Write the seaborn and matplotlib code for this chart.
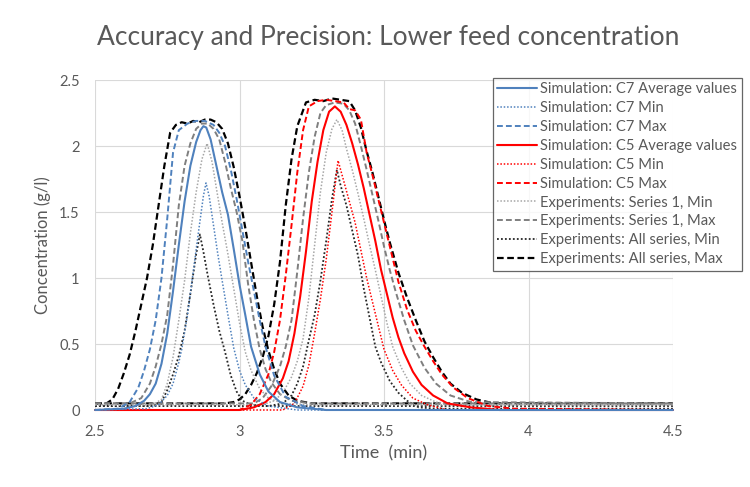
import numpy as np
import pandas as pd
import matplotlib
matplotlib.use("Agg")
import matplotlib.pyplot as plt
import seaborn as sns
from matplotlib.lines import Line2D

# ---------------- data ----------------
legend_labels = [
    "Simulation: C7 Average values", "Simulation: C7 Min", "Simulation: C7 Max",
    "Simulation: C5 Average values", "Simulation: C5 Min", "Simulation: C5 Max",
    "Experiments: Series 1, Min", "Experiments: Series 1, Max",
    "Experiments: All series, Min", "Experiments: All series, Max",
]
x_ticks = [2.5, 3, 3.5, 4, 4.5]
y_ticks = [0, 0.5, 1, 1.5, 2, 2.5]

# Simulation C7
sim_c7_avg_t = [2.50, 2.60, 2.64, 2.67, 2.69, 2.71, 2.73, 2.75, 2.77, 2.79, 2.81, 2.83, 2.85, 2.865, 2.875, 2.885, 2.90, 2.92, 2.94, 2.96, 2.98, 3.00, 3.02, 3.04, 3.07, 3.10, 3.14, 3.20, 3.30, 4.50]
sim_c7_avg_c = [0.00, 0.01, 0.03, 0.07, 0.12, 0.20, 0.35, 0.58, 0.90, 1.25, 1.58, 1.85, 2.03, 2.12, 2.15, 2.14, 2.05, 1.85, 1.65, 1.48, 1.22, 0.95, 0.72, 0.48, 0.27, 0.14, 0.06, 0.02, 0.00, 0.00]
sim_c7_min_t = [2.50, 2.68, 2.72, 2.75, 2.77, 2.79, 2.80, 2.82, 2.84, 2.86, 2.875, 2.884, 2.895, 2.91, 2.925, 2.94, 2.96, 2.98, 3.00, 3.02, 3.05, 3.10, 3.20, 4.50]
sim_c7_min_c = [0.00, 0.01, 0.04, 0.11, 0.20, 0.36, 0.46, 0.72, 1.05, 1.38, 1.62, 1.72, 1.62, 1.40, 1.18, 0.98, 0.72, 0.47, 0.30, 0.19, 0.09, 0.03, 0.00, 0.00]
sim_c7_max_t = [2.50, 2.58, 2.62, 2.65, 2.67, 2.69, 2.71, 2.73, 2.75, 2.77, 2.79, 2.82, 2.85, 2.88, 2.91, 2.93, 2.95, 2.97, 2.99, 3.01, 3.03, 3.05, 3.07, 3.09, 3.12, 3.16, 3.22, 3.30, 4.50]
sim_c7_max_c = [0.00, 0.01, 0.06, 0.17, 0.30, 0.46, 0.68, 1.00, 1.45, 1.95, 2.12, 2.17, 2.19, 2.19, 2.16, 2.10, 2.00, 1.82, 1.60, 1.36, 1.12, 0.90, 0.68, 0.48, 0.26, 0.10, 0.03, 0.00, 0.00]

# Simulation C5
sim_c5_avg_t = [2.50, 3.00, 3.05, 3.09, 3.12, 3.15, 3.17, 3.19, 3.21, 3.23, 3.25, 3.27, 3.29, 3.31, 3.33, 3.35, 3.37, 3.39, 3.41, 3.43, 3.45, 3.47, 3.49, 3.51, 3.53, 3.55, 3.57, 3.60, 3.63, 3.67, 3.72, 3.80, 3.90, 4.50]
sim_c5_avg_c = [0.00, 0.00, 0.02, 0.06, 0.12, 0.24, 0.37, 0.58, 0.86, 1.20, 1.58, 1.88, 2.12, 2.26, 2.30, 2.26, 2.16, 2.02, 1.86, 1.68, 1.48, 1.28, 1.06, 0.88, 0.70, 0.55, 0.43, 0.29, 0.19, 0.11, 0.05, 0.02, 0.00, 0.00]
sim_c5_min_t = [2.50, 3.15, 3.19, 3.22, 3.24, 3.26, 3.28, 3.30, 3.32, 3.341, 3.36, 3.38, 3.40, 3.42, 3.44, 3.46, 3.48, 3.50, 3.53, 3.56, 3.60, 3.65, 3.72, 4.50]
sim_c5_min_c = [0.00, 0.00, 0.05, 0.18, 0.34, 0.58, 0.84, 1.14, 1.50, 1.89, 1.74, 1.58, 1.42, 1.21, 1.00, 0.82, 0.64, 0.46, 0.30, 0.19, 0.09, 0.04, 0.00, 0.00]
sim_c5_max_t = [2.50, 3.00, 3.04, 3.07, 3.10, 3.12, 3.14, 3.16, 3.18, 3.20, 3.22, 3.24, 3.27, 3.30, 3.33, 3.36, 3.38, 3.40, 3.42, 3.44, 3.46, 3.48, 3.50, 3.52, 3.55, 3.58, 3.61, 3.64, 3.67, 3.70, 3.74, 3.79, 3.86, 3.95, 4.50]
sim_c5_max_c = [0.00, 0.00, 0.04, 0.12, 0.27, 0.44, 0.68, 1.02, 1.40, 1.80, 2.12, 2.30, 2.34, 2.35, 2.34, 2.33, 2.28, 2.27, 2.20, 1.95, 1.78, 1.60, 1.42, 1.24, 0.97, 0.76, 0.60, 0.48, 0.37, 0.27, 0.17, 0.09, 0.03, 0.01, 0.00]

# Experiments: Series 1
exp_s1_min_c7_t = [2.50, 2.70, 2.73, 2.75, 2.77, 2.79, 2.81, 2.83, 2.85, 2.87, 2.888, 2.905, 2.92, 2.94, 2.96, 2.98, 3.00, 3.02, 3.04, 3.07, 3.10, 3.15, 3.25, 4.50]
exp_s1_min_c7_c = [0.04, 0.04, 0.08, 0.20, 0.40, 0.68, 0.98, 1.34, 1.65, 1.90, 2.02, 1.88, 1.68, 1.42, 1.18, 0.92, 0.66, 0.44, 0.30, 0.16, 0.09, 0.05, 0.04, 0.04]
exp_s1_min_c5_t = [2.50, 3.08, 3.12, 3.15, 3.18, 3.20, 3.22, 3.24, 3.26, 3.28, 3.30, 3.32, 3.337, 3.355, 3.37, 3.39, 3.41, 3.43, 3.45, 3.47, 3.49, 3.51, 3.53, 3.56, 3.59, 3.63, 3.68, 3.75, 4.50]
exp_s1_min_c5_c = [0.04, 0.04, 0.07, 0.13, 0.25, 0.37, 0.54, 0.85, 1.25, 1.65, 1.95, 2.13, 2.20, 2.12, 1.98, 1.82, 1.64, 1.45, 1.25, 1.06, 0.86, 0.66, 0.48, 0.32, 0.20, 0.11, 0.06, 0.04, 0.04]
exp_s1_max_c7_t = [2.50, 2.62, 2.66, 2.69, 2.71, 2.73, 2.75, 2.77, 2.79, 2.81, 2.83, 2.85, 2.87, 2.89, 2.91, 2.93, 2.95, 2.97, 2.99, 3.01, 3.03, 3.05, 3.07, 3.09, 3.11, 3.14, 3.18, 3.25, 4.50]
exp_s1_max_c7_c = [0.05, 0.05, 0.09, 0.20, 0.33, 0.50, 0.72, 1.10, 1.55, 1.85, 2.02, 2.13, 2.17, 2.17, 2.13, 2.05, 1.88, 1.68, 1.50, 1.28, 0.95, 0.68, 0.46, 0.31, 0.21, 0.12, 0.07, 0.05, 0.05]
exp_s1_max_c5_t = [2.50, 3.05, 3.08, 3.11, 3.14, 3.16, 3.18, 3.20, 3.22, 3.24, 3.26, 3.28, 3.30, 3.33, 3.36, 3.38, 3.40, 3.42, 3.44, 3.46, 3.48, 3.50, 3.52, 3.54, 3.57, 3.60, 3.64, 3.68, 3.73, 3.80, 4.50]
exp_s1_max_c5_c = [0.05, 0.05, 0.09, 0.18, 0.33, 0.48, 0.68, 1.05, 1.45, 1.80, 2.07, 2.25, 2.31, 2.33, 2.32, 2.27, 2.17, 2.00, 1.82, 1.63, 1.44, 1.24, 1.06, 0.90, 0.68, 0.49, 0.32, 0.20, 0.11, 0.06, 0.05]

# Experiments: All series
exp_all_min_c7_t = [2.50, 2.70, 2.73, 2.75, 2.77, 2.79, 2.81, 2.83, 2.85, 2.863, 2.875, 2.89, 2.91, 2.93, 2.95, 2.97, 2.99, 3.01, 3.04, 3.10, 4.50]
exp_all_min_c7_c = [0.03, 0.03, 0.06, 0.15, 0.27, 0.41, 0.60, 0.88, 1.18, 1.33, 1.20, 1.02, 0.80, 0.60, 0.44, 0.26, 0.14, 0.07, 0.04, 0.03, 0.03]
exp_all_min_c5_t = [2.50, 3.10, 3.15, 3.18, 3.20, 3.22, 3.24, 3.26, 3.28, 3.30, 3.32, 3.337, 3.35, 3.37, 3.39, 3.41, 3.43, 3.45, 3.47, 3.49, 3.52, 3.55, 3.58, 3.62, 3.68, 4.50]
exp_all_min_c5_c = [0.03, 0.03, 0.05, 0.11, 0.20, 0.33, 0.53, 0.72, 0.98, 1.28, 1.60, 1.82, 1.70, 1.55, 1.36, 1.17, 0.92, 0.70, 0.48, 0.36, 0.22, 0.13, 0.07, 0.02, 0.01, 0.01]
exp_all_max_c7_t = [2.50, 2.54, 2.56, 2.58, 2.60, 2.62, 2.64, 2.66, 2.68, 2.70, 2.72, 2.74, 2.76, 2.78, 2.80, 2.82, 2.84, 2.86, 2.88, 2.90, 2.92, 2.94, 2.96, 2.98, 3.00, 3.02, 3.04, 3.06, 3.08, 3.10, 3.12, 3.14, 3.17, 3.20, 3.25, 4.50]
exp_all_max_c7_c = [0.05, 0.05, 0.08, 0.16, 0.28, 0.42, 0.60, 0.80, 1.00, 1.25, 1.55, 1.85, 2.10, 2.16, 2.18, 2.17, 2.19, 2.18, 2.20, 2.20, 2.18, 2.13, 2.02, 1.84, 1.62, 1.38, 1.12, 0.86, 0.63, 0.45, 0.31, 0.20, 0.11, 0.07, 0.05, 0.05]
exp_all_max_c5_t = [2.50, 2.95, 2.98, 3.00, 3.02, 3.04, 3.06, 3.08, 3.10, 3.12, 3.14, 3.16, 3.18, 3.20, 3.23, 3.26, 3.29, 3.32, 3.35, 3.38, 3.40, 3.42, 3.44, 3.46, 3.48, 3.50, 3.52, 3.55, 3.58, 3.61, 3.64, 3.67, 3.70, 3.73, 3.77, 3.82, 3.88, 4.50]
exp_all_max_c5_c = [0.05, 0.05, 0.06, 0.08, 0.12, 0.19, 0.28, 0.40, 0.56, 0.80, 1.12, 1.55, 1.90, 2.15, 2.33, 2.35, 2.34, 2.36, 2.35, 2.34, 2.27, 2.14, 1.96, 1.80, 1.62, 1.44, 1.27, 1.04, 0.85, 0.68, 0.52, 0.40, 0.29, 0.20, 0.13, 0.08, 0.05, 0.05]

# ---------------- styles ----------------
BLUE = "#4F81BD"
RED = "#FF0000"
LGRAY = "#A6A6A6"
MGRAY = "#7F7F7F"
DARK = "#262626"
BLACK = "#000000"
TXT = "#595959"

DOT = (0, (1, 1.2))
DASH = (0, (3, 1.6))

styles = [
    dict(color=BLUE, ls="-", lw=1.5),
    dict(color=BLUE, ls=DOT, lw=1.1),
    dict(color=BLUE, ls=DASH, lw=1.4),
    dict(color=RED, ls="-", lw=1.5),
    dict(color=RED, ls=DOT, lw=1.1),
    dict(color=RED, ls=DASH, lw=1.4),
    dict(color=LGRAY, ls=DOT, lw=1.1),
    dict(color=MGRAY, ls=DASH, lw=1.4),
    dict(color=DARK, ls=DOT, lw=1.3),
    dict(color=BLACK, ls=DASH, lw=1.6),
]

curves = [
    (0, sim_c7_avg_t, sim_c7_avg_c),
    (1, sim_c7_min_t, sim_c7_min_c),
    (2, sim_c7_max_t, sim_c7_max_c),
    (3, sim_c5_avg_t, sim_c5_avg_c),
    (4, sim_c5_min_t, sim_c5_min_c),
    (5, sim_c5_max_t, sim_c5_max_c),
    (6, exp_s1_min_c7_t, exp_s1_min_c7_c),
    (6, exp_s1_min_c5_t, exp_s1_min_c5_c),
    (7, exp_s1_max_c7_t, exp_s1_max_c7_c),
    (7, exp_s1_max_c5_t, exp_s1_max_c5_c),
    (8, exp_all_min_c7_t, exp_all_min_c7_c),
    (8, exp_all_min_c5_t, exp_all_min_c5_c),
    (9, exp_all_max_c7_t, exp_all_max_c7_c),
    (9, exp_all_max_c5_t, exp_all_max_c5_c),
]

# ---------------- figure ----------------
sns.set_theme(style="white")
plt.rcParams["font.family"] = ["Lato", "DejaVu Sans"]

fig = plt.figure(figsize=(7.5, 4.87), dpi=100)
ax = fig.add_axes([95 / 750, 1 - 410 / 487, (673 - 95) / 750, (410 - 80) / 487])

for idx, t, c in curves:
    st = styles[idx]
    df = pd.DataFrame({"t": t, "c": c})
    sns.lineplot(data=df, x="t", y="c", ax=ax, color=st["color"], linestyle=st["ls"],
                 linewidth=st["lw"], sort=False, estimator=None, legend=False,
                 zorder=3 + (10 - idx) * 0.1)
for ln in ax.get_lines():
    ln.set_clip_on(False)

ax.set_xlim(2.5, 4.5)
ax.set_ylim(0, 2.5)
ax.set_xticks(x_ticks)
ax.set_yticks(y_ticks)
ax.set_xticklabels([f"{v:g}" for v in x_ticks])
ax.set_yticklabels([f"{v:g}" for v in y_ticks])
ax.grid(True, color="#D9D9D9", linewidth=0.8)
ax.set_axisbelow(True)
for s in ax.spines.values():
    s.set_visible(False)
ax.tick_params(axis="both", length=0, labelsize=10.5, labelcolor=TXT, pad=11)

ax.set_xlabel("Time  (min)", fontsize=13, color=TXT, labelpad=4)
ax.set_ylabel("Concentration (g/l)", fontsize=12, color=TXT, labelpad=6)

fig.text(388 / 750, 1 - 38 / 487, "Accuracy and Precision: Lower feed concentration",
         ha="center", va="center", fontsize=19, color=TXT)

handles = [Line2D([0], [0], color=s["color"], linestyle=s["ls"], linewidth=s["lw"]) for s in styles]
leg = fig.legend(handles, legend_labels, loc="upper left",
                 bbox_to_anchor=(493 / 750, 1 - 78 / 487), bbox_transform=fig.transFigure,
                 fontsize=10.6, frameon=True, fancybox=False, shadow=False,
                 handlelength=2.7, handletextpad=0.2, labelspacing=0.33,
                 borderpad=0.3, borderaxespad=0.0)
leg.get_frame().set_edgecolor("#404040")
leg.get_frame().set_linewidth(0.9)
for txt in leg.get_texts():
    txt.set_color(TXT)

fig.savefig("out.png", dpi=100)
